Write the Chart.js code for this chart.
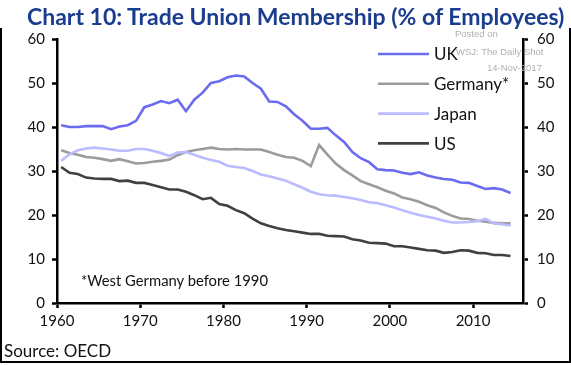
<!DOCTYPE html>
<html>
<head>
<meta charset="utf-8">
<script src="https://cdn.jsdelivr.net/npm/chart.js@4.4.1/dist/chart.umd.min.js"></script>
<style>
  body { margin: 0; background: #fff; }
  #wrap { position: relative; width: 571px; height: 365px; overflow: hidden; font-family: Lato, sans-serif; }
  #myChart { position: absolute; left: 0; top: 0; }
  #frame { position: absolute; left: 0; top: 28px; width: 567px; height: 333px; border: 2px solid #000; border-top: none; }
  #title { position: absolute; left: 27px; top: 2px; white-space: nowrap; font-weight: bold; color: #1b3d8f; font-size: 23px; }
  #note { position: absolute; left: 81px; top: 271px; font-size: 14.8px; color: #111; white-space: nowrap; }
  #source { position: absolute; left: 4px; top: 340px; font-size: 17px; color: #111; white-space: nowrap; }
  .wm { position: absolute; font-family: Arial, sans-serif; font-size: 9.5px; color: #b0b0b0; white-space: nowrap; }
</style>
</head>
<body>
<div id="wrap">
  <canvas id="myChart" width="571" height="365"></canvas>
  <div id="frame"></div>
  <div id="title">Chart 10: Trade Union Membership (% of Employees)</div>
  <div id="note">*West Germany before 1990</div>
  <div id="source">Source: OECD</div>
  <div class="wm" style="left:455px; top:28px;">Posted on</div>
  <div class="wm" style="left:456px; top:46px;">WSJ: The Daily Shot</div>
  <div class="wm" style="left:487px; top:62px;">14-Nov-2017</div>
</div>
<script>
'use strict';

let years = [];
for (let y = 1960; y <= 2014; y++) {
  years.push(y);
}

let ukValues = [40.4, 40.0, 40.0, 40.2, 40.2, 40.2, 39.5, 40.1, 40.4, 41.4,
  44.5, 45.1, 45.9, 45.4, 46.2, 43.6, 46.2, 47.8, 50.0, 50.4,
  51.3, 51.7, 51.5, 50.0, 48.7, 45.8, 45.7, 44.7, 42.9, 41.4,
  39.6, 39.6, 39.8, 38.1, 36.6, 34.3, 32.9, 32.0, 30.4, 30.2,
  30.1, 29.6, 29.3, 29.7, 29.0, 28.5, 28.2, 28.0, 27.4, 27.3,
  26.6, 25.9, 26.1, 25.8, 25.0];
let germanyValues = [34.7, 34.1, 33.7, 33.2, 33.0, 32.7, 32.3, 32.7, 32.2, 31.7,
  31.8, 32.1, 32.3, 32.6, 33.6, 34.3, 34.7, 35.0, 35.3, 35.0,
  34.9, 35.0, 34.9, 34.9, 34.9, 34.3, 33.7, 33.2, 33.0, 32.3,
  31.1, 35.9, 33.7, 31.7, 30.2, 29.0, 27.7, 27.0, 26.3, 25.5,
  24.9, 24.0, 23.6, 23.0, 22.2, 21.6, 20.6, 19.8, 19.2, 19.1,
  18.7, 18.5, 18.2, 18.1, 18.1];
let japanValues = [32.3, 33.8, 34.7, 35.1, 35.3, 35.1, 34.9, 34.6, 34.6, 35.0,
  35.0, 34.6, 34.1, 33.4, 34.2, 34.3, 33.7, 33.0, 32.5, 32.1,
  31.2, 30.9, 30.7, 30.0, 29.2, 28.8, 28.3, 27.8, 27.0, 26.2,
  25.3, 24.7, 24.5, 24.4, 24.1, 23.8, 23.4, 22.9, 22.7, 22.2,
  21.7, 21.1, 20.5, 20.0, 19.6, 19.2, 18.7, 18.3, 18.3, 18.4,
  18.6, 19.1, 18.1, 17.9, 17.6];
let usValues = [30.9, 29.6, 29.3, 28.5, 28.3, 28.2, 28.2, 27.7, 27.8, 27.3,
  27.3, 26.8, 26.3, 25.8, 25.8, 25.3, 24.5, 23.6, 23.9, 22.5,
  22.1, 21.1, 20.4, 19.2, 18.1, 17.5, 17.0, 16.6, 16.3, 16.0,
  15.7, 15.7, 15.3, 15.2, 15.1, 14.5, 14.2, 13.7, 13.6, 13.5,
  12.9, 12.9, 12.6, 12.3, 12.0, 11.9, 11.4, 11.6, 12.0, 11.9,
  11.4, 11.3, 10.9, 10.9, 10.7];

let seriesNames = ['UK', 'Germany*', 'Japan', 'US'];
let seriesColors = ['#6b6bf2', '#9b9b9b', '#bbbbff', '#404040'];
let yTicks = [0, 10, 20, 30, 40, 50, 60];
let xTicks = [1960, 1970, 1980, 1990, 2000, 2010];

// fit the title into its width
let titleEl = document.getElementById('title');
let titleSize = 23;
while (titleEl.offsetWidth > 537 && titleSize > 10) {
  titleSize -= 0.25;
  titleEl.style.fontSize = titleSize + 'px';
}

function toPoints(values) {
  // values sit at mid-year
  return values.map((v, i) => ({ x: years[i] + 0.5, y: v }));
}

let allValues = [ukValues, germanyValues, japanValues, usValues];
let datasets = [];
for (let i = 0; i < seriesNames.length; i++) {
  datasets.push({
    label: seriesNames[i],
    data: toPoints(allValues[i]),
    borderColor: seriesColors[i],
    backgroundColor: seriesColors[i],
    borderWidth: 2.6,
    pointRadius: 0,
    tension: 0,
    yAxisID: 'y',
  });
}
// draw the UK and Germany on top like the original
datasets.reverse();

const legendPlugin = {
  id: 'innerLegend',
  afterDraw(chart) {
    let ctx = chart.ctx;
    let names = seriesNames;
    ctx.save();
    ctx.font = '17px Lato, sans-serif';
    ctx.textBaseline = 'middle';
    for (let i = 0; i < names.length; i++) {
      let y = 54 + i * 29.8;
      ctx.strokeStyle = seriesColors[i];
      ctx.lineWidth = 2.6;
      ctx.beginPath();
      ctx.moveTo(378, y);
      ctx.lineTo(429, y);
      ctx.stroke();
      ctx.fillStyle = '#111';
      ctx.fillText(names[i], 434, y + 1);
    }
    ctx.restore();
  }
};

function axisGrid() {
  return {
    display: true,
    drawOnChartArea: false,
    drawTicks: true,
    tickLength: 5,
    tickWidth: 2.5,
    tickColor: '#000',
  };
}

function yAxis(position, pad) {
  return {
    type: 'linear',
    position: position,
    min: 0,
    max: 60,
    afterBuildTicks: s => { s.ticks = yTicks.map(v => ({ value: v })); },
    ticks: { padding: pad, color: '#111', font: { family: 'Lato', size: 15 } },
    grid: axisGrid(),
    border: { display: true, color: '#000', width: 2.5 },
  };
}

const config = {
  type: 'line',
  data: { datasets: datasets },
  options: {
    responsive: false,
    devicePixelRatio: 1,
    animation: false,
    layout: { padding: { left: 0, right: 0, top: 39, bottom: 0 } },
    plugins: { legend: { display: false }, tooltip: { enabled: false } },
    scales: {
      x: {
        type: 'linear',
        min: 1960,
        max: 2016,
        afterBuildTicks: s => { s.ticks = xTicks.map(v => ({ value: v })); },
        afterFit: s => { s.height = 62; },
        ticks: { padding: 4, color: '#111', font: { family: 'Lato', size: 15 }, callback: v => String(v) },
        grid: axisGrid(),
        border: { display: true, color: '#000', width: 2.5 },
      },
      y: Object.assign(yAxis('left', 7), { afterFit: s => { s.width = 57; } }),
      y2: Object.assign(yAxis('right', 9), { afterFit: s => { s.width = 48; } }),
    },
  },
  plugins: [legendPlugin],
};

let chartCanvas = document.getElementById('myChart').getContext('2d');
const myChart = new Chart(chartCanvas, config);
</script>
</body>
</html>
